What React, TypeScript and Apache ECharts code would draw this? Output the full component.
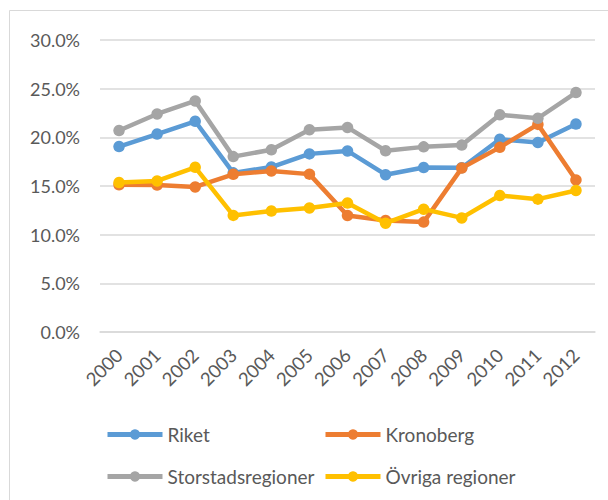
import React, { useEffect, useRef } from "react";
import * as echarts from "echarts";

const years = ["2000", "2001", "2002", "2003", "2004", "2005", "2006", "2007", "2008", "2009", "2010", "2011", "2012"];
const riket = [19.05, 20.34, 21.65, 16.35, 16.95, 18.3, 18.6, 16.16, 16.9, 16.88, 19.8, 19.47, 21.36];
const kronoberg = [15.12, 15.1, 14.9, 16.2, 16.55, 16.22, 11.97, 11.46, 11.29, 16.84, 18.97, 21.33, 15.62];
const storstad = [20.7, 22.4, 23.74, 18.02, 18.72, 20.78, 21.02, 18.62, 19.02, 19.2, 22.32, 21.96, 24.6];
const ovriga = [15.35, 15.52, 16.92, 11.98, 12.43, 12.75, 13.25, 11.18, 12.62, 11.72, 14.02, 13.65, 14.54];
const seriesNames = ["Riket", "Kronoberg", "Storstadsregioner", "Övriga regioner"];
const colors = ["#5B9BD5", "#ED7D31", "#A5A5A5", "#FFC000"];

export default function App() {
  const ref = useRef<HTMLDivElement>(null);
  useEffect(() => {
    if (!ref.current) return;
    const chart = echarts.init(ref.current, undefined, { renderer: "svg" });
    const font = "Lato, 'Open Sans', sans-serif";
    const data = [riket, kronoberg, storstad, ovriga];
    const legendPos = [
      { left: 105, top: 425 },
      { left: 323, top: 425 },
      { left: 105, top: 467 },
      { left: 323, top: 467 },
    ];
    chart.setOption({
      animation: false,
      backgroundColor: "#ffffff",
      textStyle: { fontFamily: font },
      graphic: [
        {
          type: "rect",
          shape: { x: 9.5, y: 10.5, width: 700, height: 600 },
          style: { fill: "none", stroke: "#D9D9D9", lineWidth: 1 },
          silent: true,
        },
      ],
      grid: { left: 100, right: 13, top: 40, bottom: 168 },
      xAxis: {
        type: "category",
        data: years,
        boundaryGap: true,
        axisLine: { show: true, lineStyle: { color: "#D9D9D9", width: 1.5 } },
        axisTick: { show: false },
        axisLabel: {
          rotate: 45,
          margin: 20,
          color: "#595959",
          fontSize: 18.5,
          fontFamily: font,
          interval: 0,
        },
      },
      yAxis: {
        type: "value",
        min: 0,
        max: 30,
        interval: 5,
        axisLine: { show: false },
        axisTick: { show: false },
        splitLine: { lineStyle: { color: "#D9D9D9", width: 1.5 } },
        axisLabel: {
          margin: 20,
          color: "#595959",
          fontSize: 18,
          fontFamily: font,
          formatter: (v: number) => v.toFixed(1) + "%",
        },
      },
      legend: seriesNames.map((n, i) => ({
        data: [n],
        left: legendPos[i].left,
        top: legendPos[i].top,
        itemWidth: 55,
        itemHeight: 13,
        padding: 0,
        lineStyle: { width: 5 },
        textStyle: { color: "#595959", fontSize: 19, fontFamily: font },
      })),
      series: seriesNames.map((n, i) => ({
        name: n,
        type: "line",
        data: data[i],
        color: colors[i],
        symbol: "circle",
        symbolSize: 11.5,
        lineStyle: { width: 4.5, color: colors[i] },
        itemStyle: { color: colors[i] },
        z: 2 + i,
      })),
    });
    return () => chart.dispose();
  }, []);
  return <div ref={ref} style={{ position: "absolute", left: 0, top: 0, width: 608, height: 500 }} />;
}
